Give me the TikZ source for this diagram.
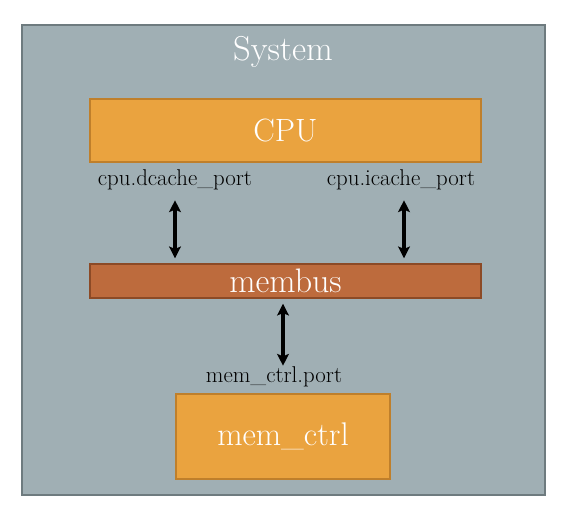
\documentclass[tikz,border=0pt]{standalone}
\usepackage{fontspec}
\usepackage{tikz}
\usetikzlibrary{arrows.meta,positioning,calc}
\definecolor{sysfill}{HTML}{A0AFB4}
\definecolor{sysline}{HTML}{6E7B7F}
\definecolor{boxfill}{HTML}{EAA33F}
\definecolor{boxline}{HTML}{BF7F2B}
\definecolor{busfill}{HTML}{BD6B3D}
\definecolor{busline}{HTML}{8C4A26}
\tikzset{
  sysbox/.style={draw=sysline,fill=sysfill,line width=1.2pt},
  compbox/.style={draw=boxline,fill=boxfill,line width=1.2pt,text=white,font=\fontsize{28}{32}\selectfont},
  busbox/.style={draw=busline,fill=busfill,line width=1.2pt,text=white,font=\fontsize{29}{32}\selectfont},
  portlabel/.style={font=\fontsize{19.5}{23}\selectfont},
  link/.style={{Stealth[length=10pt,width=10pt,inset=2pt]}-{Stealth[length=10pt,width=10pt,inset=2pt]},line width=2.6pt}
}
\begin{document}
\begin{tikzpicture}[x=0.03cm,y=-0.03cm]
		\useasboundingbox (0,0) rectangle (564,510);
		% draw system box
		\node[sysbox,minimum width=15.69cm,minimum height=14.1cm] (system) at (283.5,260) {};
		\node[text=white,font=\fontsize{29.5}{33}\selectfont] (systitle) at (283,52) {System};
		% draw components
		\node[compbox,minimum width=11.73cm,minimum height=1.89cm,font=\fontsize{27.5}{32}\selectfont] (cpu) at (285.5,130.5) {CPU};
		\node[busbox,minimum width=11.73cm,minimum height=1.02cm,inner sep=0pt] (membus) at (285.5,281) {membus};
		\node[compbox,minimum width=6.42cm,minimum height=2.55cm] (memctrl) at (283,436.5) {mem\_ctrl};
		% draw port labels
		\node[portlabel] (dport) at (175,180) {cpu.dcache\_port};
		\node[portlabel] (iport) at (401,180) {cpu.icache\_port};
		\node[portlabel] (mport) at (274,377) {mem\_ctrl.port};
		% draw connections
		\draw[link] ($(dport.south)+(0,6)$) -- ($(dport.south |- membus.north)+(0,-5)$);
		\draw[link] ($(iport.south)+(3,6)$) -- ($(iport.south |- membus.north)+(3,-5)$);
		\draw[link] ($(membus.south)+(-2.5,5)$) -- ($(mport.north)+(9,3)$);
\end{tikzpicture}
\end{document}
